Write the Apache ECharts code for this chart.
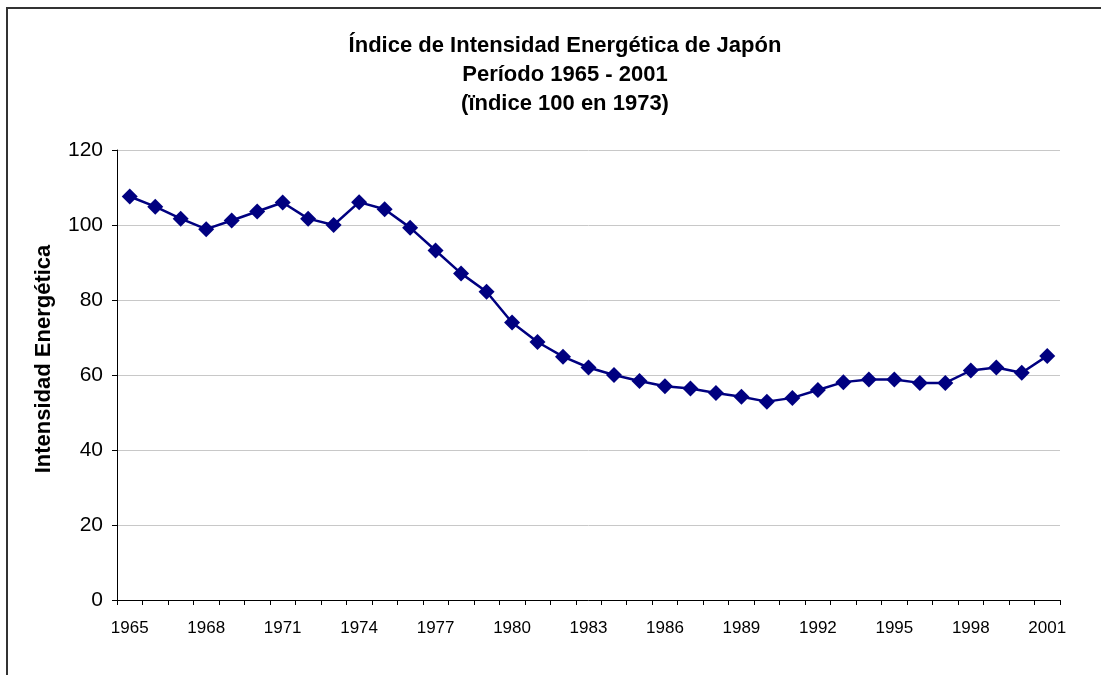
<!DOCTYPE html>
<html>
<head>
<meta charset="utf-8">
<script src="https://cdn.jsdelivr.net/npm/echarts@6/dist/echarts.min.js"></script>
<style>
html,body{margin:0;padding:0;background:#fff;overflow:hidden;}
#frame{position:absolute;left:6px;top:7px;width:1200px;height:800px;border-left:2px solid #333;border-top:2px solid #333;}
#chart{position:absolute;left:0;top:0;width:1101px;height:675px;}
</style>
</head>
<body>
<div id="frame"></div>
<div id="chart"></div>
<script>
var years = ['1965','1966','1967','1968','1969','1970','1971','1972','1973','1974','1975','1976','1977','1978','1979','1980','1981','1982','1983','1984','1985','1986','1987','1988','1989','1990','1991','1992','1993','1994','1995','1996','1997','1998','1999','2000','2001'];
var intensidad = [107.6,104.9,101.7,98.9,101.2,103.6,106.0,101.7,100.0,106.1,104.2,99.3,93.2,87.1,82.2,74.0,68.8,64.9,62.0,60.0,58.4,57.0,56.4,55.2,54.2,52.9,53.9,56.0,58.1,58.8,58.8,57.9,57.9,61.2,62.0,60.6,65.1];
var titleText = 'Índice de Intensidad Energética de Japón\nPeríodo 1965 - 2001\n(ïndice 100 en 1973)';
var yName = 'Intensidad Energética';

var chart = echarts.init(document.getElementById('chart'), null, {renderer:'canvas'});
chart.setOption({
  backgroundColor: 'transparent',
  animation: false,
  title: {
    text: titleText,
    left: 560,
    top: 26,
    textAlign: 'center',
    textStyle: {fontFamily: 'Liberation Sans, Arial, sans-serif', fontWeight: 'bold', fontSize: 22, lineHeight: 29, color: '#000'}
  },
  graphic: [{
    type: 'text',
    x: 44, y: 359,
    rotation: Math.PI / 2,
    style: {text: yName, textAlign: 'center', textVerticalAlign: 'middle', fontFamily: 'Liberation Sans, Arial, sans-serif', fontWeight: 'bold', fontSize: 22, fill: '#000'}
  }],
  grid: {left: 117, right: 41, top: 150, bottom: 75, containLabel: false},
  xAxis: {
    type: 'category',
    data: years,
    boundaryGap: true,
    axisLine: {lineStyle: {color: '#000', width: 1}},
    axisTick: {show: true, interval: 0, length: 5, lineStyle: {color: '#000'}},
    axisLabel: {interval: 2, margin: 20, color: '#000', fontFamily: 'Liberation Sans, Arial, sans-serif', fontSize: 17},
    splitLine: {show: false}
  },
  yAxis: {
    type: 'value',
    min: 0, max: 120, interval: 20,
    axisLine: {show: true, lineStyle: {color: '#000', width: 1}},
    axisTick: {show: true, length: 5, lineStyle: {color: '#000'}},
    axisLabel: {margin: 14, color: '#000', fontFamily: 'Liberation Sans, Arial, sans-serif', fontSize: 21},
    splitLine: {show: true, lineStyle: {color: '#c8c8c8', width: 1}}
  },
  series: [{
    type: 'line',
    data: intensidad,
    symbol: 'diamond',
    symbolSize: 16,
    showAllSymbol: true,
    lineStyle: {color: '#000080', width: 2.5},
    itemStyle: {color: '#000080'},
    z: 3
  }]
});
</script>
</body>
</html>
